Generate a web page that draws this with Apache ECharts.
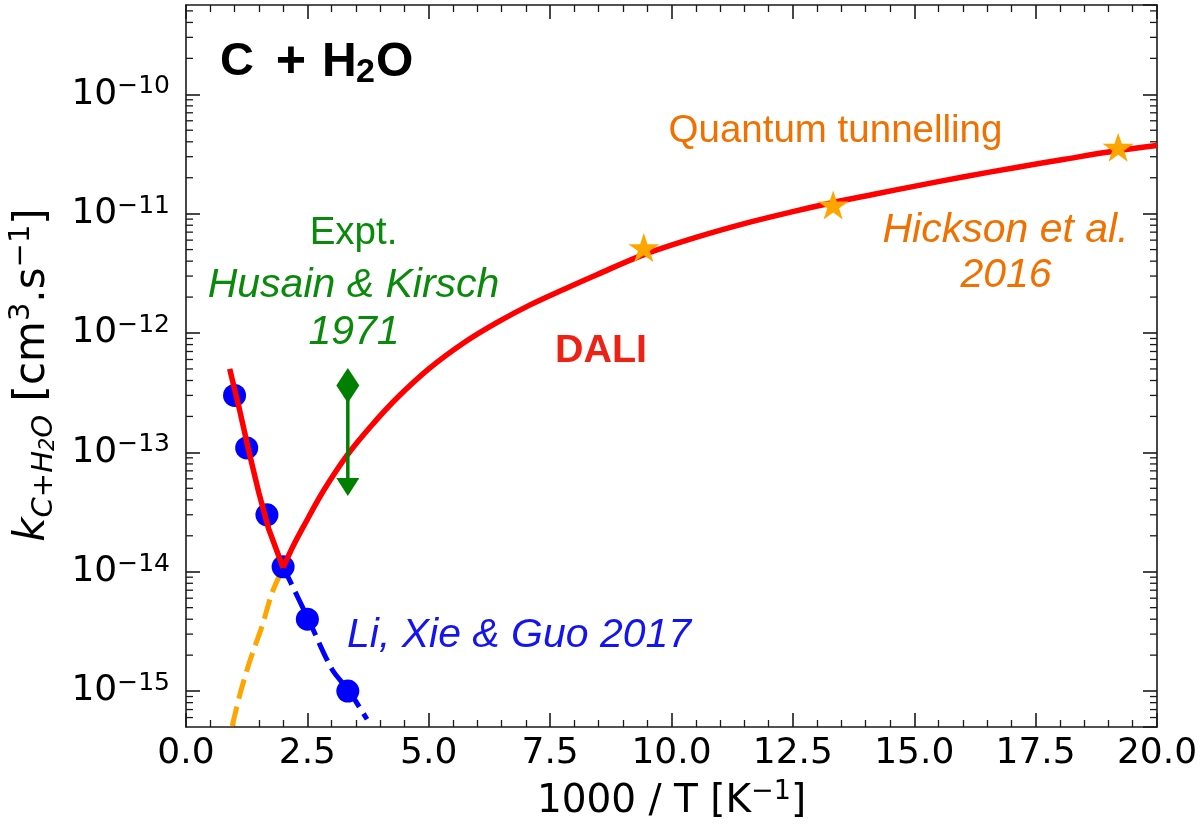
<!DOCTYPE html>
<html><head><meta charset="utf-8">
<script src="https://cdn.jsdelivr.net/npm/echarts@6/dist/echarts.min.js"></script>
<style>html,body{margin:0;padding:0;background:#fff}#c{width:1200px;height:828px}</style>
</head><body><div id="c"></div>
<script>
// ---- data ----
const liX = [1.0, 1.25, 1.667, 2.0, 2.5, 3.333];
const liY = [3.0e-13, 1.09e-13, 3.0e-14, 1.1e-14, 4.0e-15, 1.0e-15];
const liFitX = [2.0, 2.52, 3.008, 3.344, 3.728];
const liFitY = [1.1e-14, 4.0e-15, 1.52e-15, 1.02e-15, 5.8e-16];
const tunnelX = [0.951, 1.121, 1.327, 1.568, 1.774, 2.0];
const tunnelY = [5.1e-16, 9.7e-16, 1.85e-15, 3.51e-15, 6.67e-15, 1.08e-14];
const daliLowX = [0.9, 1.1, 1.3, 1.5, 1.7, 2.0];
const daliLowY = [5.0e-13, 2.3e-13, 1.0e-13, 4.6e-14, 2.3e-14, 1.08e-14];
const daliHighX = [2.0, 2.2, 2.424, 2.835, 3.317, 3.8, 4.346, 5.0, 5.716, 6.4, 7.088, 7.8, 8.461, 9.42, 10.52, 11.615, 12.5, 13.33, 14.2, 15.045, 16.0, 17.1, 18.1, 19.16, 20.0];
const daliHighY = [1.08e-14, 1.62e-14, 2.41e-14, 4.79e-14, 9.44e-14, 1.64e-13, 2.85e-13, 5.0e-13, 8.24e-13, 1.22e-12, 1.72e-12, 2.34e-12, 3.08e-12, 4.52e-12, 6.35e-12, 8.49e-12, 1.04e-11, 1.24e-11, 1.46e-11, 1.71e-11, 2.03e-11, 2.44e-11, 2.86e-11, 3.36e-11, 3.72e-11];
const hicksonX = [9.43, 13.33, 19.2];
const hicksonY = [5.05e-12, 1.15e-11, 3.5e-11];
const exptX = [3.333, 3.333];
const exptY = [3.64e-13, 5.13e-14];
const xMin = 0, xMax = 20, xInterval = 2.5;
const yMin = 5e-16, yMax = 5.6e-10;
const yMinorMult = [2, 3, 4, 5, 6, 7, 8, 9];
const yDecades = [-16, -15, -14, -13, -12, -11, -10];

const zip = (xs, ys) => xs.map((x, i) => [x, ys[i]]);
const FRAME = '#1a1a1a';
const STAR = 'path://M0,-10L2.245,-3.09L9.511,-3.09L3.633,1.18L5.878,8.09L0,3.82L-5.878,8.09L-3.633,1.18L-9.511,-3.09L-2.245,-3.09Z';

const yMinorVals = [];
yDecades.forEach(d => yMinorMult.forEach(m => {
  const v = m * Math.pow(10, d);
  if (v > yMin * 1.0001 && v < yMax) yMinorVals.push(v);
}));

function yFmt(v) {
  const l = Math.log10(v), e = Math.round(l);
  if (Math.abs(l - e) > 1e-6) return '';
  return '{a|10}{b|' + (e < 0 ? '\u2212' : '') + Math.abs(e) + '}';
}

function xAxisCfg(pos, showLabel) {
  return {
    type: 'value', position: pos, min: xMin, max: xMax, interval: xInterval,
    axisLine: { show: true, onZero: false, lineStyle: { color: FRAME, width: 1.6 } },
    axisTick: { show: true, inside: true, length: 14, lineStyle: { color: FRAME, width: 1.6 } },
    minorTick: { show: true, splitNumber: 5, length: 7, lineStyle: { color: FRAME, width: 1.3 } },
    splitLine: { show: false }, minorSplitLine: { show: false },
    axisLabel: { show: showLabel, formatter: v => v.toFixed(1), fontSize: 36, fontFamily: 'DejaVu Sans',
      color: '#000', margin: 7, lineHeight: 40 }
  };
}
function yAxisCfg(pos, showLabel) {
  return {
    type: 'log', logBase: 10, position: pos, min: yMin, max: yMax,
    axisLine: { show: true, onZero: false, lineStyle: { color: FRAME, width: 1.6 } },
    axisTick: { show: true, inside: true, length: 14, lineStyle: { color: FRAME, width: 1.6 } },
    minorTick: { show: false }, splitLine: { show: false }, minorSplitLine: { show: false },
    axisLabel: { show: showLabel, showMinLabel: false, showMaxLabel: false, margin: 16, formatter: yFmt,
      color: '#000',
      rich: {
        a: { fontSize: 36, lineHeight: 40, fontFamily: 'DejaVu Sans', color: '#000' },
        b: { fontSize: 25, lineHeight: 18, verticalAlign: 'top', fontFamily: 'DejaVu Sans', color: '#000' }
      } }
  };
}

const xa0 = xAxisCfg('bottom', true);
xa0.name = '{n|1000 / T [K}{p|\u22121}{n|]}';
xa0.nameLocation = 'middle';
xa0.nameGap = 48;
xa0.nameTextStyle = { rich: {
  n: { fontSize: 39, lineHeight: 46, fontFamily: 'DejaVu Sans', color: '#000' },
  p: { fontSize: 27, lineHeight: 20, verticalAlign: 'top', fontFamily: 'DejaVu Sans', color: '#000' }
} };
const xa1 = xAxisCfg('top', false);

const ya0 = yAxisCfg('left', true);
ya0.name = '{k|k}{s|C+H}{ss|2}{s|O}{n| [cm}{p|3}{n|.s}{p|\u22121}{n|]}';
ya0.nameLocation = 'middle';
ya0.nameRotate = 90;
ya0.nameGap = 127;
ya0.nameTextStyle = { padding: [0, 18, 0, 0], rich: {
  k: { fontSize: 42, lineHeight: 52, fontStyle: 'italic', fontFamily: 'DejaVu Sans', color: '#000' },
  s: { fontSize: 29, lineHeight: 34, verticalAlign: 'bottom', fontStyle: 'italic', fontFamily: 'DejaVu Sans', color: '#000' },
  ss: { fontSize: 21, lineHeight: 24, verticalAlign: 'bottom', fontStyle: 'italic', fontFamily: 'DejaVu Sans', color: '#000' },
  n: { fontSize: 42, lineHeight: 52, fontFamily: 'DejaVu Sans', color: '#000' },
  p: { fontSize: 29, lineHeight: 30, verticalAlign: 'top', fontFamily: 'DejaVu Sans', color: '#000' }
} };
const ya1 = yAxisCfg('right', false);

const ANN = '"Liberation Sans", Arial, sans-serif';
function txt(x, y, text, color, size, style, weight, align) {
  return { type: 'text', x: x, y: y, silent: true, z: 20,
    style: { text: text, fill: color, fontSize: size, fontFamily: ANN, fontStyle: style || 'normal',
      fontWeight: weight || 'normal', align: align || 'center', verticalAlign: 'middle' } };
}

const option = {
  animation: false,
  backgroundColor: '#fff',
  grid: { left: 186, right: 43, top: 5, bottom: 101, containLabel: false, outerBoundsMode: 'none' },
  xAxis: [xa0, xa1],
  yAxis: [ya0, ya1],
  series: [
    { type: 'custom', coordinateSystem: 'cartesian2d', silent: true, z: 10, clip: false,
      data: yMinorVals.map(v => [xMin, v]), encode: { x: 0, y: 1 },
      renderItem: (params, api) => {
        const v = api.value(1);
        const l = api.coord([xMin, v]), r = api.coord([xMax, v]);
        return { type: 'group', children: [
          { type: 'line', shape: { x1: l[0], y1: l[1], x2: l[0] + 7, y2: l[1] }, style: { stroke: FRAME, lineWidth: 1.3 } },
          { type: 'line', shape: { x1: r[0] - 7, y1: r[1], x2: r[0], y2: r[1] }, style: { stroke: FRAME, lineWidth: 1.3 } }
        ] };
      } },
    { name: 'tunnel', type: 'line', data: zip(tunnelX, tunnelY), symbol: 'none', smooth: 0.3,
      lineStyle: { color: '#ffa500', width: 5, type: [20, 8], cap: 'butt' }, z: 2, silent: true },
    { name: 'Li', type: 'scatter', data: zip(liX, liY), symbol: 'circle', symbolSize: 23,
      itemStyle: { color: '#0000ff', opacity: 1 }, z: 3, silent: true },
    { name: 'LiFit', type: 'line', data: zip(liFitX, liFitY), symbol: 'none', smooth: 0.3,
      lineStyle: { color: '#0000ff', width: 5, type: [20, 8], cap: 'butt' }, z: 4, silent: true },
    { name: 'DALI low', type: 'line', data: zip(daliLowX, daliLowY), symbol: 'none',
      lineStyle: { color: '#ff0000', width: 5.5, join: 'round' }, z: 5, silent: true },
    { name: 'DALI high', type: 'line', data: zip(daliHighX, daliHighY), symbol: 'none', smooth: 0.35,
      lineStyle: { color: '#ff0000', width: 5.5, join: 'round' }, z: 5, silent: true },
    { name: 'Hickson', type: 'scatter', data: zip(hicksonX, hicksonY), symbol: STAR, symbolSize: [31, 29],
      symbolOffset: [0, -1.5], itemStyle: { color: '#ffa500', opacity: 1 }, z: 6, silent: true },
    { name: 'Expt', type: 'line', silent: true, z: 6, showSymbol: true,
      data: [
        { value: [exptX[0], exptY[0]], symbol: 'diamond', symbolSize: [23, 35] },
        { value: [exptX[1], exptY[1]], symbol: 'triangle', symbolRotate: 180, symbolSize: [23, 18] }
      ],
      lineStyle: { color: '#007f00', width: 3.5 }, itemStyle: { color: '#007f00', opacity: 1 } }
  ],
  graphic: [
    txt(220, 62.4, 'C', '#000', 47, 'normal', 'bold', 'left'),
    txt(291, 62.4, '+', '#000', 52, 'normal', 'bold', 'center'),
    txt(322, 62.4, 'H', '#000', 48, 'normal', 'bold', 'left'),
    txt(356, 73, '2', '#000', 34, 'normal', 'bold', 'left'),
    txt(376, 62.4, 'O', '#000', 48, 'normal', 'bold', 'left'),
    txt(835.5, 131.7, 'Quantum tunnelling', '#f07000', 38.5),
    txt(1005.5, 230.8, 'Hickson et al.', '#f07000', 41, 'italic'),
    txt(1006, 275.8, '2016', '#f07000', 41, 'italic'),
    txt(353.5, 233.4, 'Expt.', '#0a8a0a', 38.5),
    txt(353.5, 285.8, 'Husain & Kirsch', '#0a8a0a', 41, 'italic'),
    txt(354, 332.5, '1971', '#0a8a0a', 41, 'italic'),
    txt(601, 351.3, 'DALI', '#ec2214', 39.5, 'normal', 'bold'),
    txt(347, 635.8, 'Li, Xie & Guo 2017', '#1414f0', 41, 'italic', 'normal', 'left')
  ]
};

const chart = echarts.init(document.getElementById('c'));
chart.setOption(option);
</script>
</body></html>
